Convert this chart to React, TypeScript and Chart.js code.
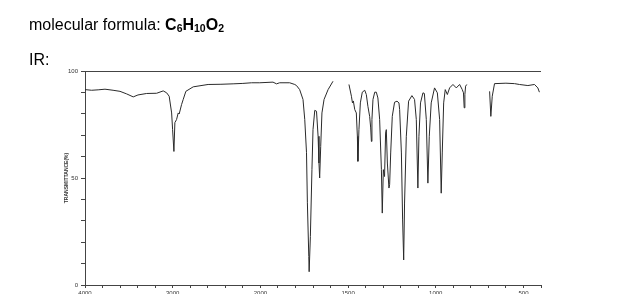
import React, { useEffect, useRef } from 'react';
import { Chart, registerables } from 'chart.js';

Chart.register(...registerables);

// IR spectrum: wavenumber (cm-1) and transmittance (%); null marks a break in the trace
const wavenumbers = [
  4000, 3924, 3850, 3772, 3680, 3601, 3525, 3450, 3396, 3297, 3183, 3108, 3069, 3040, 3012,
  3001, 2986, 2975, 2956, 2937, 2926, 2899, 2880, 2850, 2766, 2596, 2450, 2311, 2200, 2100,
  2007, 1928, 1908, 1890, 1833, 1804, 1794, 1776, 1757, 1747, 1737, 1732, 1724, 1722, 1715,
  1706, 1700, 1690, 1680, 1671, 1666, 1662, 1656, 1649, 1637, 1614, 1586,
  1540,
  1495, 1481, 1475, 1470, 1462, 1453, 1447, 1444, 1438, 1430, 1419, 1405, 1396, 1387, 1377,
  1371, 1367, 1364, 1358, 1348, 1339, 1330, 1320, 1310, 1305, 1299, 1292, 1286, 1282, 1276,
  1267, 1263, 1257, 1248, 1235, 1221, 1210, 1206, 1196, 1189, 1183, 1178, 1168, 1155, 1136,
  1121, 1111, 1102, 1096, 1087, 1073, 1065, 1054, 1045, 1037, 1026, 1007, 991, 978, 969,
  963, 955, 946, 934, 921, 902, 883, 864, 849, 842, 838, 834, 830, 823,
  760,
  693, 686, 678, 665, 600, 551, 523, 475, 437, 418, 409,
];

const transmittance = [
  91.3, 91.0, 91.2, 91.5, 91.0, 90.5, 89.3, 87.9, 88.8, 89.5, 89.6, 90.7, 89.8, 88.2, 80.4,
  72.6, 62.4, 75.9, 77.3, 80.4, 79.9, 84.3, 86.7, 90.5, 92.6, 93.7, 93.8, 94.0, 94.2, 94.5,
  94.5, 94.8, 94.0, 94.5, 94.5, 93.7, 93.2, 91.3, 86.7, 77.3, 61.8, 38.4, 13.3, 6.2, 22.6,
  53.9, 72.6, 81.6, 81.2, 69.5, 57.0, 50.0, 64.8, 80.4, 86.7, 91.3, 95.2,
  null,
  93.7, 88.2, 85.1, 86.0, 82.0, 80.4, 69.5, 57.8, 72.6, 85.1, 90.1, 91.0, 89.0, 83.5, 78.8,
  73.4, 67.1, 77.3, 86.7, 90.1, 90.1, 87.4, 77.3, 53.9, 33.6, 53.9, 50.7, 71.0, 72.6, 57.0,
  45.3, 47.0, 61.7, 78.8, 85.4, 85.9, 85.1, 82.0, 61.7, 30.4, 11.7, 38.3, 69.5, 85.9, 88.5,
  86.7, 77.3, 45.3, 69.5, 85.1, 89.8, 89.5, 77.3, 47.6, 69.5, 85.1, 92.1, 89.8, 77.3, 42.9,
  61.7, 85.1, 91.3, 89.0, 92.1, 93.7, 92.1, 93.7, 91.3, 89.8, 82.8, 89.0, 92.9, 93.7,
  null,
  90.5, 78.8, 88.2, 94.1, 94.3, 94.1, 93.7, 93.2, 93.7, 92.1, 90.1,
];

const xTickLabels = [4000, 3000, 2000, 1500, 1000, 500];
const yTickLabels = [0, 50, 100];

// IR charts use a doubled scale below 2000 cm-1
const toAxis = (wn: number) => (wn >= 2000 ? 4000 - wn : 2000 + 2 * (2000 - wn));

const topBorder = {
  id: 'topBorder',
  afterDraw(chart: any) {
    const { ctx, chartArea } = chart;
    ctx.save();
    ctx.strokeStyle = '#444';
    ctx.lineWidth = 1;
    ctx.beginPath();
    ctx.moveTo(chartArea.left, Math.round(chartArea.top) + 0.5);
    ctx.lineTo(chartArea.right, Math.round(chartArea.top) + 0.5);
    ctx.stroke();
    ctx.restore();
  },
};

export default function App() {
  const ref = useRef<HTMLCanvasElement>(null);

  useEffect(() => {
    if (!ref.current) return;
    const points = wavenumbers.map((wn, i) => ({ x: toAxis(wn), y: transmittance[i] }));
    const labelMap: Record<number, string> = {};
    xTickLabels.forEach((w) => (labelMap[toAxis(w)] = String(w)));
    const tickFont = { size: 6, family: 'Liberation Sans, Arial, sans-serif' };
    const chart = new Chart(ref.current, {
      type: 'line',
      data: {
        datasets: [
          {
            data: points as any,
            borderColor: '#2a2a2a',
            borderWidth: 1,
            pointRadius: 0,
            tension: 0,
            spanGaps: false,
            fill: false,
          },
        ],
      },
      options: {
        responsive: false,
        animation: false,
        events: [],
        layout: { padding: { left: 60, top: 71, right: 82, bottom: 0 } },
        plugins: { legend: { display: false }, tooltip: { enabled: false } },
        scales: {
          x: {
            type: 'linear',
            min: 0,
            max: toAxis(400),
            afterFit: (s: any) => {
              s.height = 9;
            },
            grid: { display: true, drawOnChartArea: false, drawTicks: true, tickLength: 3, color: '#444' },
            border: { display: true, color: '#444', width: 1 },
            ticks: {
              stepSize: 200,
              autoSkip: false,
              maxRotation: 0,
              padding: 2,
              color: '#333',
              font: tickFont,
              callback: (v: any) => labelMap[Number(v)] ?? '',
            },
          },
          y: {
            min: 0,
            max: 100,
            afterFit: (s: any) => {
              s.width = 25;
            },
            grid: { display: true, drawOnChartArea: false, drawTicks: true, tickLength: 4, color: '#444' },
            border: { display: true, color: '#444', width: 1 },
            title: {
              display: true,
              text: 'TRANSMITTANCE(%)',
              color: '#333',
              padding: { top: 4, bottom: 0 },
              font: { size: 5, weight: 'bold', family: 'Liberation Sans, Arial, sans-serif' },
            },
            ticks: {
              stepSize: 10,
              autoSkip: false,
              padding: 3,
              color: '#333',
              font: tickFont,
              callback: (v: any) => (yTickLabels.includes(Number(v)) ? String(v) : ''),
            },
          },
        },
      },
      plugins: [topBorder],
    });
    return () => chart.destroy();
  }, []);

  const textStyle: React.CSSProperties = {
    position: 'absolute',
    left: 29,
    fontFamily: 'Liberation Sans, Arial, sans-serif',
    fontSize: 16,
    lineHeight: 1,
    color: '#000',
    whiteSpace: 'nowrap',
  };
  const sub: React.CSSProperties = { fontSize: 10.5, verticalAlign: '-2px' };

  return (
    <div style={{ position: 'fixed', left: 0, top: 0, width: 623, height: 294, background: '#fff' }}>
      <canvas ref={ref} width={623} height={294} style={{ position: 'absolute', left: 0, top: 0 }} />
      <div style={{ ...textStyle, top: 16.5 }}>
        molecular formula:{' '}
        <b>
          C<span style={sub}>6</span>H<span style={sub}>10</span>O<span style={sub}>2</span>
        </b>
      </div>
      <div style={{ ...textStyle, top: 51.5 }}>IR:</div>
    </div>
  );
}
